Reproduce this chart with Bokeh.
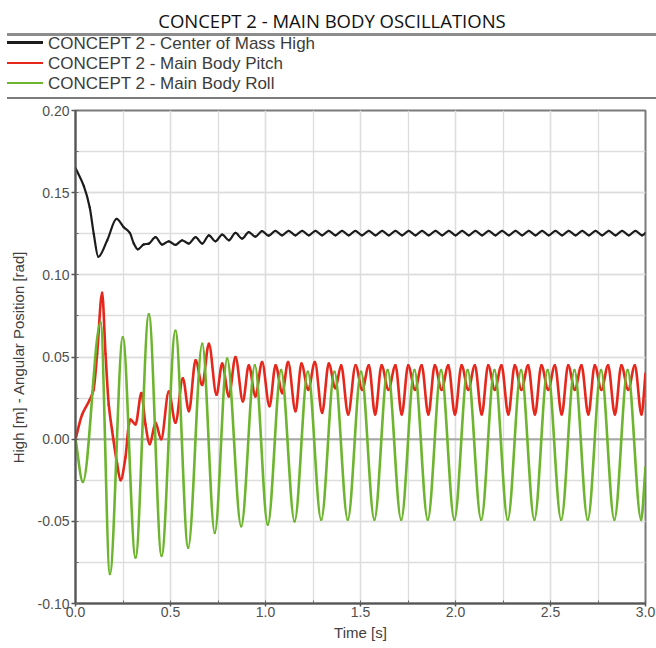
import numpy as np
from bokeh.plotting import figure
from bokeh.layouts import column
from bokeh.models import (Range1d, SingleIntervalTicker, PrintfTickFormatter, Span, Div,
                          ColumnDataSource)
from bokeh.embed import file_html
from bokeh.resources import INLINE

TITLE = "CONCEPT 2 - MAIN BODY OSCILLATIONS"
NAMES = ["CONCEPT 2 - Center of Mass High", "CONCEPT 2 - Main Body Pitch", "CONCEPT 2 - Main Body Roll"]
COLORS = ["#1c1c1c", "#e5271c", "#6db52e"]
X_LABEL = "Time [s]"
Y_LABEL = "High [m] - Angular Position [rad]"

# Center of Mass High (black)
BLACK_T = [0.000, 0.044, 0.075, 0.096, 0.120, 0.167, 0.216, 0.254, 0.286, 0.307, 0.328, 0.360,
           0.386, 0.421, 0.456, 0.491, 0.526, 0.561, 0.596, 0.632, 0.667, 0.702, 0.737, 0.772,
           0.807, 0.842, 0.877, 0.912, 0.947,
           0.982, 1.017, 1.052, 1.087, 1.122, 1.157, 1.193, 1.228, 1.263, 1.298, 1.333, 1.368,
           1.403, 1.438, 1.473, 1.508, 1.544, 1.579, 1.614, 1.649, 1.684, 1.719, 1.754, 1.789,
           1.824, 1.859, 1.895, 1.930, 1.965, 2.000, 2.035, 2.070, 2.105, 2.140, 2.175, 2.210,
           2.245, 2.281, 2.316, 2.351, 2.386, 2.421, 2.456, 2.491, 2.526, 2.561, 2.596, 2.632,
           2.667, 2.702, 2.737, 2.772, 2.807, 2.842, 2.877, 2.912, 2.947, 2.982, 3.000]
BLACK_V = [0.1650, 0.1540, 0.1410, 0.1250, 0.1110, 0.1210, 0.1340, 0.1290, 0.1255, 0.1190, 0.1155, 0.1185,
           0.1190, 0.1229, 0.1184, 0.1204, 0.1182, 0.1210, 0.1190, 0.1229, 0.1190, 0.1240, 0.1204, 0.1245,
           0.1210, 0.1255, 0.1220, 0.1260, 0.1232,
           0.1266, 0.1238, 0.1268, 0.1240, 0.1268, 0.1240, 0.1268, 0.1240, 0.1268, 0.1240, 0.1268, 0.1240,
           0.1268, 0.1240, 0.1268, 0.1240, 0.1268, 0.1240, 0.1268, 0.1240, 0.1268, 0.1240, 0.1268, 0.1240,
           0.1268, 0.1240, 0.1268, 0.1240, 0.1268, 0.1240, 0.1268, 0.1240, 0.1268, 0.1240, 0.1268, 0.1240,
           0.1268, 0.1240, 0.1268, 0.1240, 0.1268, 0.1240, 0.1268, 0.1240, 0.1268, 0.1240, 0.1268, 0.1240,
           0.1268, 0.1240, 0.1268, 0.1240, 0.1268, 0.1240, 0.1268, 0.1240, 0.1268, 0.1240, 0.1255]

# Main Body Pitch (red)
RED_T = [0.000, 0.035, 0.075, 0.095, 0.114, 0.140, 0.158, 0.175, 0.193, 0.219, 0.237, 0.263,
         0.281, 0.289, 0.316, 0.347, 0.368, 0.391, 0.421, 0.451, 0.491, 0.526, 0.565, 0.597,
         0.632, 0.667, 0.702, 0.742, 0.772, 0.807, 0.842, 0.881, 0.912, 0.947, 0.982, 1.021,
         1.053, 1.088, 1.119, 1.158, 1.189, 1.225, 1.260, 1.298, 1.333, 1.368, 1.398, 1.435,
         1.474, 1.509, 1.544, 1.577, 1.611, 1.647, 1.684, 1.717, 1.751, 1.787, 1.822, 1.857,
         1.891, 1.927, 1.962, 1.997, 2.032, 2.067, 2.102, 2.138, 2.172, 2.207, 2.242, 2.278,
         2.312, 2.347, 2.382, 2.418, 2.452, 2.488, 2.523, 2.559, 2.593, 2.628, 2.663, 2.699,
         2.733, 2.768, 2.803, 2.839, 2.873, 2.909, 2.944, 2.979, 3.000]
RED_V = [0.000, 0.015, 0.024, 0.030, 0.052, 0.089, 0.052, 0.021, 0.005, -0.015, -0.025, -0.011,
         0.009, 0.012, 0.009, 0.028, 0.009, -0.003, 0.010, 0.000, 0.029, 0.010, 0.037, 0.017,
         0.048, 0.033, 0.058, 0.027, 0.046, 0.026, 0.050, 0.023, 0.045, 0.026, 0.047, 0.020,
         0.045, 0.028, 0.047, 0.017, 0.046, 0.030, 0.047, 0.016, 0.046, 0.031, 0.045, 0.015,
         0.045, 0.030, 0.045, 0.015, 0.045, 0.030, 0.045, 0.015, 0.045, 0.030, 0.045, 0.015,
         0.045, 0.030, 0.045, 0.015, 0.045, 0.030, 0.045, 0.015, 0.045, 0.030, 0.045, 0.015,
         0.045, 0.030, 0.045, 0.015, 0.045, 0.030, 0.045, 0.015, 0.045, 0.030, 0.045, 0.015,
         0.045, 0.030, 0.045, 0.015, 0.045, 0.030, 0.045, 0.015, 0.040]

# Main Body Roll (green)
GREEN_T = [0.000, 0.039, 0.132, 0.181, 0.249, 0.316, 0.386, 0.453, 0.526, 0.593, 0.667, 0.733,
           0.798, 0.872, 0.944, 1.012, 1.082, 1.153, 1.223, 1.293, 1.363, 1.433, 1.503, 1.573,
           1.643, 1.714, 1.784, 1.854, 1.924, 1.994, 2.064, 2.135, 2.205, 2.275, 2.345, 2.415,
           2.485, 2.556, 2.626, 2.696, 2.766, 2.836, 2.906, 2.977, 3.000]
GREEN_V = [0.000, -0.026, 0.071, -0.082, 0.062, -0.072, 0.076, -0.071, 0.066, -0.066, 0.058, -0.057,
           0.049, -0.053, 0.045, -0.052, 0.042, -0.050, 0.041, -0.049, 0.041, -0.049, 0.041, -0.049,
           0.042, -0.049, 0.042, -0.049, 0.042, -0.049, 0.042, -0.049, 0.042, -0.049, 0.042, -0.049,
           0.042, -0.049, 0.042, -0.049, 0.042, -0.049, 0.042, -0.049, -0.017]

FONT = "Liberation Sans"


def smooth_segments(t, y):
    """Monotone cubic (PCHIP) curve through the data points, as bezier segments."""
    t = np.asarray(t, float)
    y = np.asarray(y, float)
    h = np.diff(t)
    d = np.diff(y) / h
    m = np.zeros_like(y)
    m[0] = d[0]
    m[-1] = d[-1]
    for i in range(1, len(y) - 1):
        if d[i - 1] * d[i] > 0:
            w1 = 2 * h[i] + h[i - 1]
            w2 = h[i] + 2 * h[i - 1]
            m[i] = (w1 + w2) / (w1 / d[i - 1] + w2 / d[i])
    return ColumnDataSource(dict(
        x0=t[:-1], y0=y[:-1], x1=t[1:], y1=y[1:],
        cx0=t[:-1] + h / 3, cy0=y[:-1] + m[:-1] * h / 3,
        cx1=t[1:] - h / 3, cy1=y[1:] - m[1:] * h / 3,
    ))


# ---------------- header: title, rules and legend ----------------
rows = []
for i, (name, color, lw) in enumerate(zip(NAMES, COLORS, [3, 2, 2])):
    rows.append(
        f'<div style="position:absolute;left:7px;top:{34 + 20 * i}px;height:20px;'
        f'display:flex;align-items:center;white-space:nowrap;">'
        f'<span style="display:inline-block;width:36px;height:{lw}px;background:{color};margin-top:-3px;"></span>'
        f'<span style="margin-left:5px;font-family:\'{FONT}\';font-size:17px;line-height:20px;color:#3c3c3c;">{name}</span>'
        f'</div>'
    )
header_html = (
    '<div style="position:relative;width:656px;height:102px;background:white;">'
    f'<div style="position:absolute;left:0;top:8px;width:664px;text-align:center;'
    f'font-family:\'Open Sans\';font-size:18.5px;line-height:25px;color:#111111;white-space:nowrap;">{TITLE}</div>'
    '<div style="position:absolute;left:7px;top:33.3px;width:649px;height:2.5px;background:#8c8c8c;"></div>'
    + "".join(rows) +
    '<div style="position:absolute;left:7px;top:96.8px;width:649px;height:2.5px;background:#7c7c7c;"></div>'
    '</div>'
)
header = Div(text=header_html, width=656, height=102, margin=0)

# ---------------- main plot ----------------
p = figure(width=656, height=546, x_range=Range1d(0, 3), y_range=Range1d(-0.10, 0.20),
           output_backend="svg", toolbar_location=None,
           min_border_left=75, min_border_right=11, min_border_top=8, min_border_bottom=45)
p.title = None
p.margin = 0

xt = SingleIntervalTicker(interval=0.5, num_minor_ticks=2)
yt = SingleIntervalTicker(interval=0.05, num_minor_ticks=2)
p.xaxis[0].ticker = xt
p.yaxis[0].ticker = yt
p.xgrid[0].ticker = xt
p.ygrid[0].ticker = yt
p.xaxis.formatter = PrintfTickFormatter(format="%.1f")
p.yaxis.formatter = PrintfTickFormatter(format="%.2f")

p.grid.grid_line_color = "#dddddd"
p.grid.minor_grid_line_color = "#dddddd"
p.grid.grid_line_width = 1.3
p.grid.minor_grid_line_width = 1.3

p.outline_line_color = "#7a7a7a"
p.outline_line_width = 2

for ax in (p.xaxis, p.yaxis):
    ax.axis_line_color = "#555555"
    ax.axis_line_width = 2
    ax.major_tick_line_color = "#555555"
    ax.major_tick_line_width = 1.5
    ax.major_tick_in = 0
    ax.minor_tick_line_color = "#666666"
    ax.minor_tick_out = 0
    ax.minor_tick_in = 3
    ax.major_label_text_font = FONT
    ax.major_label_text_color = "#505050"
    ax.major_label_text_font_size = "14px"
    ax.axis_label_text_font = FONT
    ax.axis_label_text_font_style = "normal"
    ax.axis_label_text_color = "#404040"
    ax.axis_label_text_font_size = "15px"

p.xaxis.major_tick_out = 3
p.xaxis.major_label_standoff = 0
p.xaxis.axis_label = X_LABEL
p.xaxis.axis_label_standoff = 4

p.yaxis.major_tick_out = 4
p.yaxis.major_label_standoff = 2
p.yaxis.axis_label = Y_LABEL
p.yaxis.axis_label_standoff = 8

p.add_layout(Span(location=0, dimension="width", line_color="#a8a8a8", line_width=2, level="underlay"))

for (tt, vv), c, w in zip([(BLACK_T, BLACK_V), (RED_T, RED_V), (GREEN_T, GREEN_V)], COLORS, [2.2, 2.6, 2.6]):
    p.bezier(x0="x0", y0="y0", x1="x1", y1="y1", cx0="cx0", cy0="cy0", cx1="cx1", cy1="cy1",
             source=smooth_segments(tt, vv), line_color=c, line_width=w, line_cap="round")

layout = column(header, p, spacing=0)
open("out.html", "w").write(file_html(layout, INLINE))
